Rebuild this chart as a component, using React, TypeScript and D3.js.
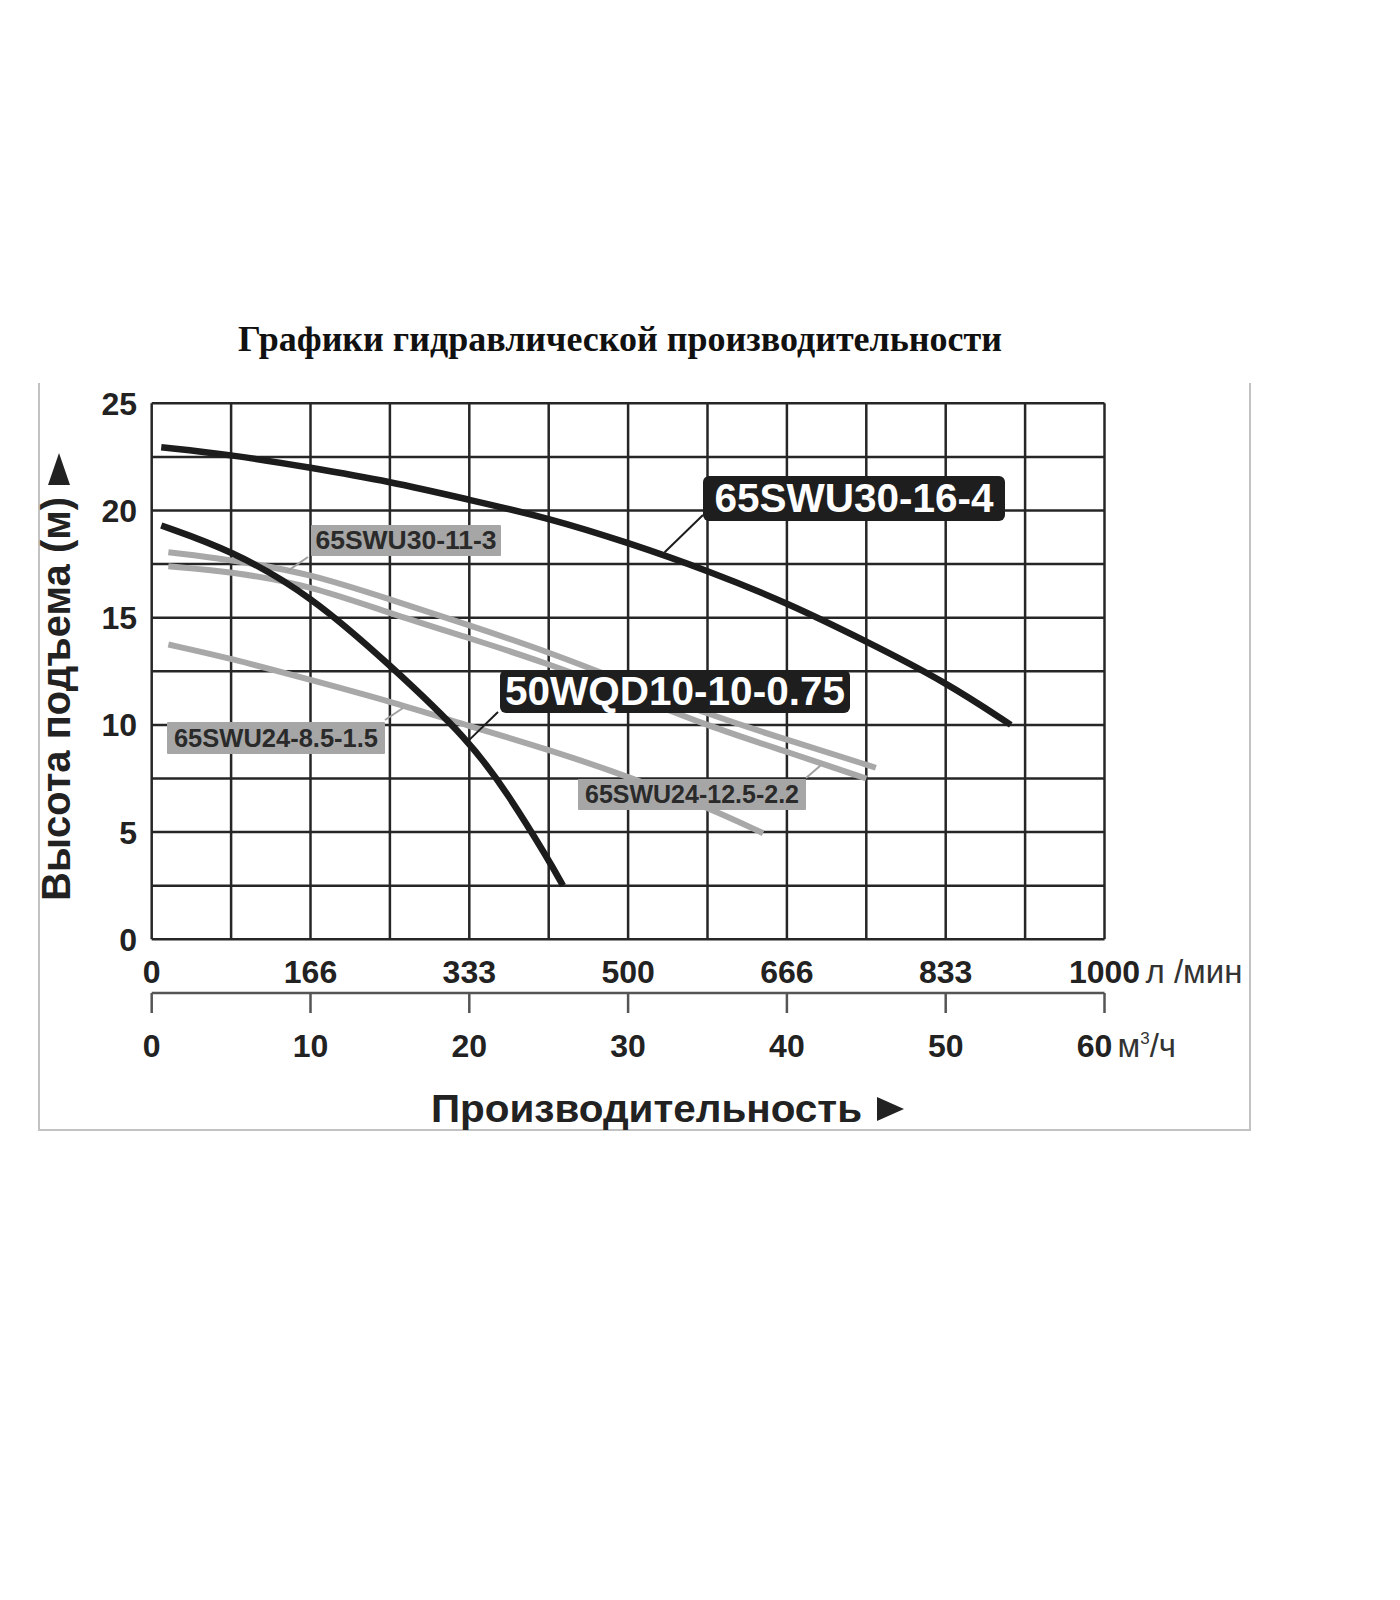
import React from "react";
import * as d3 from "d3";

// ---- data (flow in m³/h, head in m) ----
const flowM3hTicks = [0, 10, 20, 30, 40, 50, 60];
const flowLpmTicks = ["0", "166", "333", "500", "666", "833", "1000"];
const headTicks = [0, 5, 10, 15, 20, 25];

const swu30_16_4: [number, number][] = [
  [0.6, 22.95], [5, 22.6], [10, 22.0], [15, 21.35], [20, 20.5], [25, 19.65],
  [30, 18.5], [35, 17.2], [40, 15.7], [45, 13.9], [50, 12.0], [54.1, 10.0],
];
const wqd10_10_075: [number, number][] = [
  [0.6, 19.3], [5, 18.15], [10, 16.05], [15, 12.8], [20, 9.3], [22.5, 6.7], [25, 3.7], [25.9, 2.5],
];
const swu30_11_3: [number, number][] = [
  [1.05, 18.05], [5, 17.7], [10, 17.05], [15, 15.85], [20, 14.65], [25, 13.4],
  [30, 11.95], [35, 10.5], [40, 9.3], [45, 8.15], [45.6, 8.0],
];
const swu24_125_22: [number, number][] = [
  [1.05, 17.4], [5, 17.15], [10, 16.5], [15, 15.2], [20, 14.05], [25, 12.85],
  [30, 11.45], [35, 9.95], [40, 8.75], [45.0, 7.5],
];
const swu24_85_15: [number, number][] = [
  [1.05, 13.75], [5, 13.1], [10, 12.1], [15, 11.1], [20, 9.95], [25, 8.85],
  [30, 7.6], [35, 6.15], [38.5, 4.95],
];

const seriesNames = ["65SWU30-16-4", "50WQD10-10-0.75", "65SWU30-11-3", "65SWU24-12.5-2.2", "65SWU24-8.5-1.5"];
// points on each curve where the label leader touches (data coords)
const leaderAnchors: [number, number][] = [[32.3, 18.05], [20.0, 9.3], [8.5, 17.15], [42.1, 8.1], [15.85, 10.8]];

export default function App() {
  const W = 1400, H = 1600;
  const x = d3.scaleLinear().domain([0, 60]).range([151.7, 1104.5]);
  const y = d3.scaleLinear().domain([0, 25]).range([939.3, 403.3]);
  const gridX = d3.range(0, 60.001, 5);
  const gridY = d3.range(0, 25.001, 2.5);
  const line = d3.line<[number, number]>().x(d => x(d[0])).y(d => y(d[1])).curve(d3.curveBasis);

  const sans = "'Liberation Sans', Arial, Helvetica, sans-serif";
  const serif = "'Liberation Serif', 'Times New Roman', serif";

  // label layout (pixels)
  const labelBoxes = [
    { x0: 703, y0: 476, x1: 1005, y1: 521, dark: true, fs: 40.5, base: 512, corner: [703, 515] },
    { x0: 500, y0: 670, x1: 850, y1: 713, dark: true, fs: 40.5, base: 705, corner: [498, 712] },
    { x0: 311, y0: 525, x1: 501, y1: 556, dark: false, fs: 26.5, base: 549, corner: [308, 557] },
    { x0: 578, y0: 779, x1: 806, y1: 810, dark: false, fs: 25, base: 803, corner: [806, 778] },
    { x0: 167, y0: 722, x1: 385, y1: 754, dark: false, fs: 25.5, base: 747, corner: [385, 720] },
  ];

  const grayLines = [swu30_11_3, swu24_125_22, swu24_85_15];
  const blackLines = [swu30_16_4, wqd10_10_075];

  return (
    <svg width={W} height={H} style={{ position: "absolute", left: 0, top: 0, background: "#fff" }}>
      <rect x={0} y={0} width={W} height={H} fill="#fff" />
      {/* frame */}
      <path d="M39,383 V1130 H1250 V383" fill="none" stroke="#c2c2c2" strokeWidth={2} />

      {/* title */}
      <text x={620} y={351} textAnchor="middle" fontFamily={serif} fontWeight="bold" fontSize={36} fill="#111">
        Графики гидравлической производительности
      </text>

      {/* grid */}
      {gridX.map(v => (
        <line key={"gx" + v} x1={x(v)} x2={x(v)} y1={y(0)} y2={y(25)} stroke="#262626" strokeWidth={2.5} />
      ))}
      {gridY.map(v => (
        <line key={"gy" + v} x1={x(0)} x2={x(60)} y1={y(v)} y2={y(v)} stroke="#262626" strokeWidth={2.5} />
      ))}

      {/* y ticks */}
      {headTicks.map(v => (
        <text key={"yt" + v} x={137} y={y(v)} dy="0.36em" textAnchor="end" fontFamily={sans} fontWeight="bold" fontSize={32} fill="#222">
          {v}
        </text>
      ))}
      <text transform="translate(70,901) rotate(-90)" textAnchor="start" fontFamily={sans} fontWeight="bold" fontSize={40} fill="#222">
        Высота подъема (м)
      </text>
      <path d="M59,453 L48,485 L70,485 Z" fill="#222" />

      {/* x axis l/min */}
      {flowLpmTicks.map((t, i) => (
        <text key={"xl" + t} x={x(flowM3hTicks[i])} y={983} textAnchor="middle" fontFamily={sans} fontWeight="bold" fontSize={32} fill="#222">
          {t}
        </text>
      ))}
      <text x={x(60) + 41} y={983} fontFamily={sans} fontSize={33} fill="#333">л /мин</text>

      {/* secondary axis m3/h */}
      <line x1={x(0)} x2={x(60)} y1={993} y2={993} stroke="#555" strokeWidth={2.5} />
      {flowM3hTicks.map(v => (
        <line key={"tk" + v} x1={x(v)} x2={x(v)} y1={993} y2={1013} stroke="#555" strokeWidth={2.5} />
      ))}
      {flowM3hTicks.map((v, i) => (
        <text key={"xm" + v} x={x(v) - (i === flowM3hTicks.length - 1 ? 10 : 0)} y={1057} textAnchor="middle" fontFamily={sans} fontWeight="bold" fontSize={32} fill="#222">
          {v}
        </text>
      ))}
      <text x={x(60) + 13} y={1057} fontFamily={sans} fontSize={33} fill="#333">
        м<tspan dy={-13} fontSize={17}>3</tspan><tspan dy={13}>/ч</tspan>
      </text>

      <text x={431} y={1122} fontFamily={sans} fontWeight="bold" fontSize={38} fill="#222"
        textLength={431} lengthAdjust="spacingAndGlyphs">
        Производительность
      </text>
      <path d="M877,1097 L877,1121 L904,1109 Z" fill="#222" />

      {/* curves */}
      {grayLines.map((d, i) => (
        <path key={"g" + i} d={line(d) || ""} fill="none" stroke="#a8a8a8" strokeWidth={6} strokeLinecap="butt" />
      ))}
      {blackLines.map((d, i) => (
        <path key={"b" + i} d={line(d) || ""} fill="none" stroke="#1c1c1c" strokeWidth={6.5} strokeLinecap="butt" />
      ))}

      {/* labels */}
      {labelBoxes.map((b, i) => (
        <g key={"lb" + i}>
          <line x1={b.corner[0]} y1={b.corner[1]} x2={x(leaderAnchors[i][0])} y2={y(leaderAnchors[i][1])}
            stroke={b.dark ? "#1c1c1c" : "#a0a0a0"} strokeWidth={2} />
          <rect x={b.x0} y={b.y0} width={b.x1 - b.x0} height={b.y1 - b.y0} rx={b.dark ? 6 : 1}
            fill={b.dark ? "#1e1e1e" : "#a6a6a6"} />
          <text x={(b.x0 + b.x1) / 2} y={b.base} textAnchor="middle" fontFamily={sans} fontWeight="bold"
            fontSize={b.fs} fill={b.dark ? "#fff" : "#2a2a2a"}>
            {seriesNames[i]}
          </text>
        </g>
      ))}
    </svg>
  );
}
